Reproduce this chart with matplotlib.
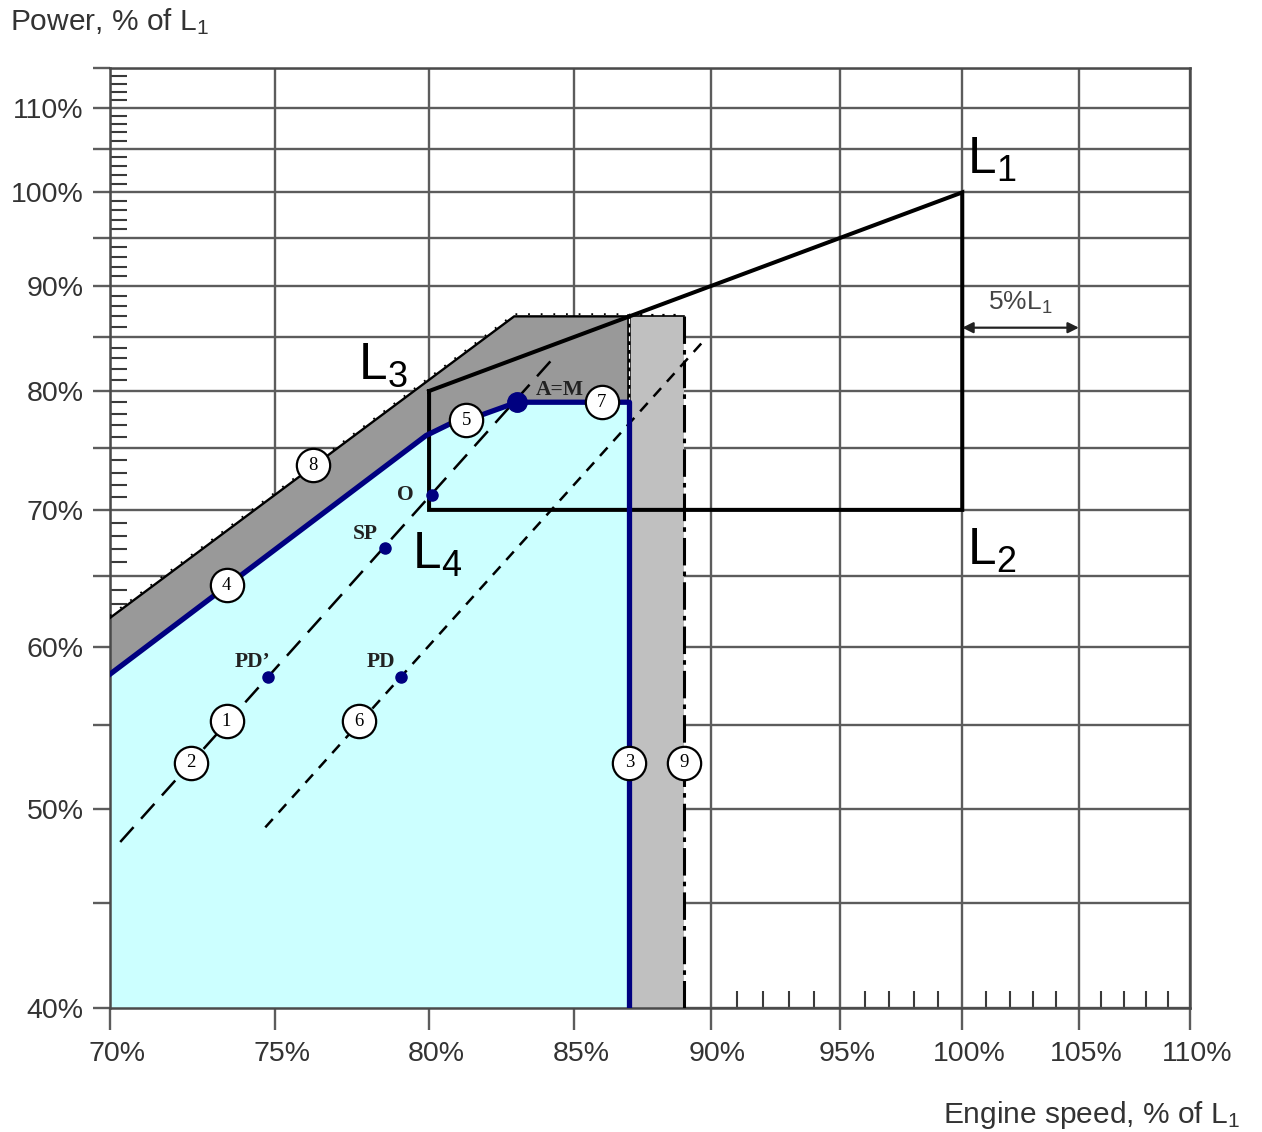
import matplotlib
matplotlib.use('Agg')
import matplotlib.pyplot as plt
from matplotlib.ticker import FixedLocator, NullFormatter, FixedFormatter
import matplotlib.transforms as mtransforms

plt.rcParams['font.family'] = ['Liberation Sans', 'DejaVu Sans']
plt.rcParams['mathtext.fontset'] = 'custom'
plt.rcParams['mathtext.rm'] = 'Liberation Sans'
plt.rcParams['mathtext.it'] = 'Liberation Sans:italic'
plt.rcParams['mathtext.default'] = 'regular'

# ---------------- data (% of L1) ----------------
x_major = [70, 75, 80, 85, 90, 95, 100, 105, 110]
x_labels = ['70%', '75%', '80%', '85%', '90%', '95%', '100%', '105%', '110%']
y_major = [40, 45, 50, 55, 60, 65, 70, 75, 80, 85, 90, 95, 100, 105, 110, 115]
y_labels = ['40%', '', '50%', '', '60%', '', '70%', '', '80%', '', '90%', '', '100%', '', '110%', '']
x_minor = [v for v in range(71, 110) if v % 5]
y_minor = [v for v in range(41, 115) if v % 5]

# limit curve (line 4 / 5 / 7 / 3), blue
blue_speed = [70.0, 79.9, 80.7, 81.8, 83.0, 87.0, 87.0]
blue_power = [58.2, 76.1, 77.1, 77.9, 79.0, 79.0, 40.0]

# upper boundary of dark grey area (line 8)
grey_speed = [70.0, 82.9, 87.0, 87.0]
grey_power = [62.0, 87.0, 87.0, 79.0]

# light grey band (line 9)
band_speed = [87.0, 89.0]
band_power = [40.0, 87.0]

# L1-L2-L4-L3 layout box
box_speed = [80, 80, 100, 100, 80]
box_power = [80, 70, 70, 100, 80]

# propeller curves (lines 1/2 and 6)
prop1_speed = [70.3, 84.4]
prop1_power = [48.2, 83.4]
prop6_speed = [74.7, 89.8]
prop6_power = [49.0, 84.8]

# points
pt_names = ['A=M', 'O', 'SP', 'PD\u2019', 'PD']
pt_speed = [83.0, 80.1, 78.54, 74.8, 79.07]
pt_power = [79.0, 71.2, 67.1, 58.0, 58.0]
pt_lbl_speed = [84.5, 79.2, 77.9, 74.3, 78.4]
pt_lbl_power = [80.1, 71.2, 68.1, 59.0, 59.0]

# numbered circles
circ_ids = ['1', '2', '3', '4', '5', '6', '7', '8', '9']
circ_speed = [73.5, 72.4, 87.0, 73.5, 81.25, 77.7, 86.0, 76.2, 89.0]
circ_power = [55.2, 52.7, 52.7, 64.3, 77.4, 55.2, 79.0, 73.6, 52.7]

# L labels
L_names = ['L$_1$', 'L$_2$', 'L$_3$', 'L$_4$']
L_speed = [100.2, 100.2, 77.66, 79.43]
L_power = [102.1, 65.8, 81.1, 65.5]

# ---------------- figure ----------------
W, H = 1262, 1132
fig = plt.figure(figsize=(W / 100, H / 100), dpi=100)
ax = fig.add_axes([110 / W, (H - 1008) / H, 1080 / W, 940 / H])
ax.set_xscale('log')
ax.set_yscale('log')
ax.set_xlim(70, 110)
ax.set_ylim(40, 115)

ax.xaxis.set_major_locator(FixedLocator(x_major))
ax.xaxis.set_major_formatter(FixedFormatter(x_labels))
ax.yaxis.set_major_locator(FixedLocator(y_major))
ax.yaxis.set_major_formatter(FixedFormatter(y_labels))
ax.xaxis.set_minor_locator(FixedLocator(x_minor))
ax.yaxis.set_minor_locator(FixedLocator(y_minor))
ax.xaxis.set_minor_formatter(NullFormatter())
ax.yaxis.set_minor_formatter(NullFormatter())

gcol = '#5c5c5c'
ax.grid(True, which='major', color=gcol, lw=1.7)
ax.tick_params(axis='x', which='major', direction='out', length=16, width=1.7,
               color=gcol, pad=8, labelsize=20.5, labelcolor='#333333')
ax.tick_params(axis='y', which='major', direction='out', length=12, width=1.7,
               color=gcol, pad=7, labelsize=20.5, labelcolor='#333333')
ax.tick_params(which='minor', direction='in', length=12.5, width=1.5, color='#3a3a3a')
for sp in ax.spines.values():
    sp.set_color('#4a4a4a')
    sp.set_linewidth(1.8)

off = mtransforms.ScaledTranslation(7 / 100, 0, fig.dpi_scale_trans)
for lab in ax.get_xticklabels():
    lab.set_transform(lab.get_transform() + off)

# ---- fills ----
cyan_x = [70.0] + blue_speed
cyan_y = [40.0] + blue_power
ax.fill(cyan_x, cyan_y, color='#ccffff', lw=0, zorder=2)

dark_x = grey_speed + blue_speed[-2::-1]
dark_y = grey_power + blue_power[-2::-1]
ax.fill(dark_x, dark_y, color='#999999', lw=0, zorder=2)

ax.fill([band_speed[0], band_speed[1], band_speed[1], band_speed[0]],
        [band_power[0], band_power[0], band_power[1], band_power[1]],
        color='#c0c0c0', lw=0, zorder=2)

# ---- edges ----
ax.plot(grey_speed[:3], grey_power[:3], color='black', lw=1.7, zorder=3)
ax.plot(grey_speed[:3], [p * 1.0025 for p in grey_power[:3]], color='black', lw=1.3,
        ls=(0, (1, 6)), zorder=3)
ax.plot([grey_speed[2], band_speed[1]], [grey_power[2], band_power[1]],
        color='black', lw=1.2, zorder=3)
ax.plot([grey_speed[2], band_speed[1]], [grey_power[2] * 1.002, band_power[1] * 1.002],
        color='black', lw=1.6, ls=(0, (1, 4)), zorder=3)
ax.plot([grey_speed[3], grey_speed[3]], [grey_power[3], grey_power[2]],
        color='black', lw=2.6, zorder=3)
ax.plot([grey_speed[3], grey_speed[3]], [grey_power[3], grey_power[2]],
        color='white', lw=0.9, ls=(0, (4, 3)), zorder=3.1)
ax.plot([band_speed[1], band_speed[1]], band_power, color='black', lw=2.2,
        ls=(0, (9, 2, 1.5, 2)), zorder=3)

# ---- propeller curves ----
ax.plot(prop1_speed, prop1_power, color='black', lw=1.8, ls=(0, (8, 4.5)), zorder=3.5)
ax.plot(prop6_speed, prop6_power, color='black', lw=1.8, ls=(0, (4.5, 3.5)), zorder=3.5)

# ---- box ----
ax.plot(box_speed, box_power, color='black', lw=2.9, zorder=4, solid_joinstyle='miter')

# ---- blue limit curve ----
ax.plot(blue_speed, blue_power, color='#000080', lw=3.8, zorder=4.5)

# ---- points ----
ax.plot(pt_speed[:1], pt_power[:1], 'o', color='#000080', ms=14, zorder=6)
ax.plot(pt_speed[1:], pt_power[1:], 'o', color='#000080', ms=8, zorder=6)
for n, sx, sy in zip(pt_names, pt_lbl_speed, pt_lbl_power):
    ax.text(sx, sy, n, ha='center', va='center', fontsize=15.5, fontweight='bold',
            family='Liberation Serif', color='#222222', zorder=7)

# ---- circles ----
ax.plot(circ_speed, circ_power, 'o', ms=24, mfc='white', mec='black', mew=1.6, zorder=6)
for c, sx, sy in zip(circ_ids, circ_speed, circ_power):
    ax.text(sx, sy, c, ha='center', va='center', fontsize=13.5,
            family='Liberation Serif', color='black', zorder=7)

# ---- L labels ----
for n, sx, sy in zip(L_names, L_speed, L_power):
    ax.text(sx, sy, n, ha='left', va='baseline', fontsize=37, color='black', zorder=7)

# ---- 5% L1 dimension ----
ax.annotate('', xy=(105, 85.9), xytext=(100, 85.9),
            arrowprops=dict(arrowstyle='<|-|>', color='#222222', lw=1.6,
                            mutation_scale=16, shrinkA=0, shrinkB=0), zorder=7)
ax.text(102.45, 88.3, '5%L$_1$', ha='center', va='center', fontsize=19,
        color='#444444', zorder=7)

# ---- axis titles ----
fig.text(10 / W, 1 - 22 / H, 'Power, % of L$_1$', ha='left', va='center',
         fontsize=21.5, color='#333333')
fig.text(1240 / W, 1 - 1115 / H, 'Engine speed, % of L$_1$', ha='right', va='center',
         fontsize=21.5, color='#333333')

fig.savefig('out.png', dpi=100)
